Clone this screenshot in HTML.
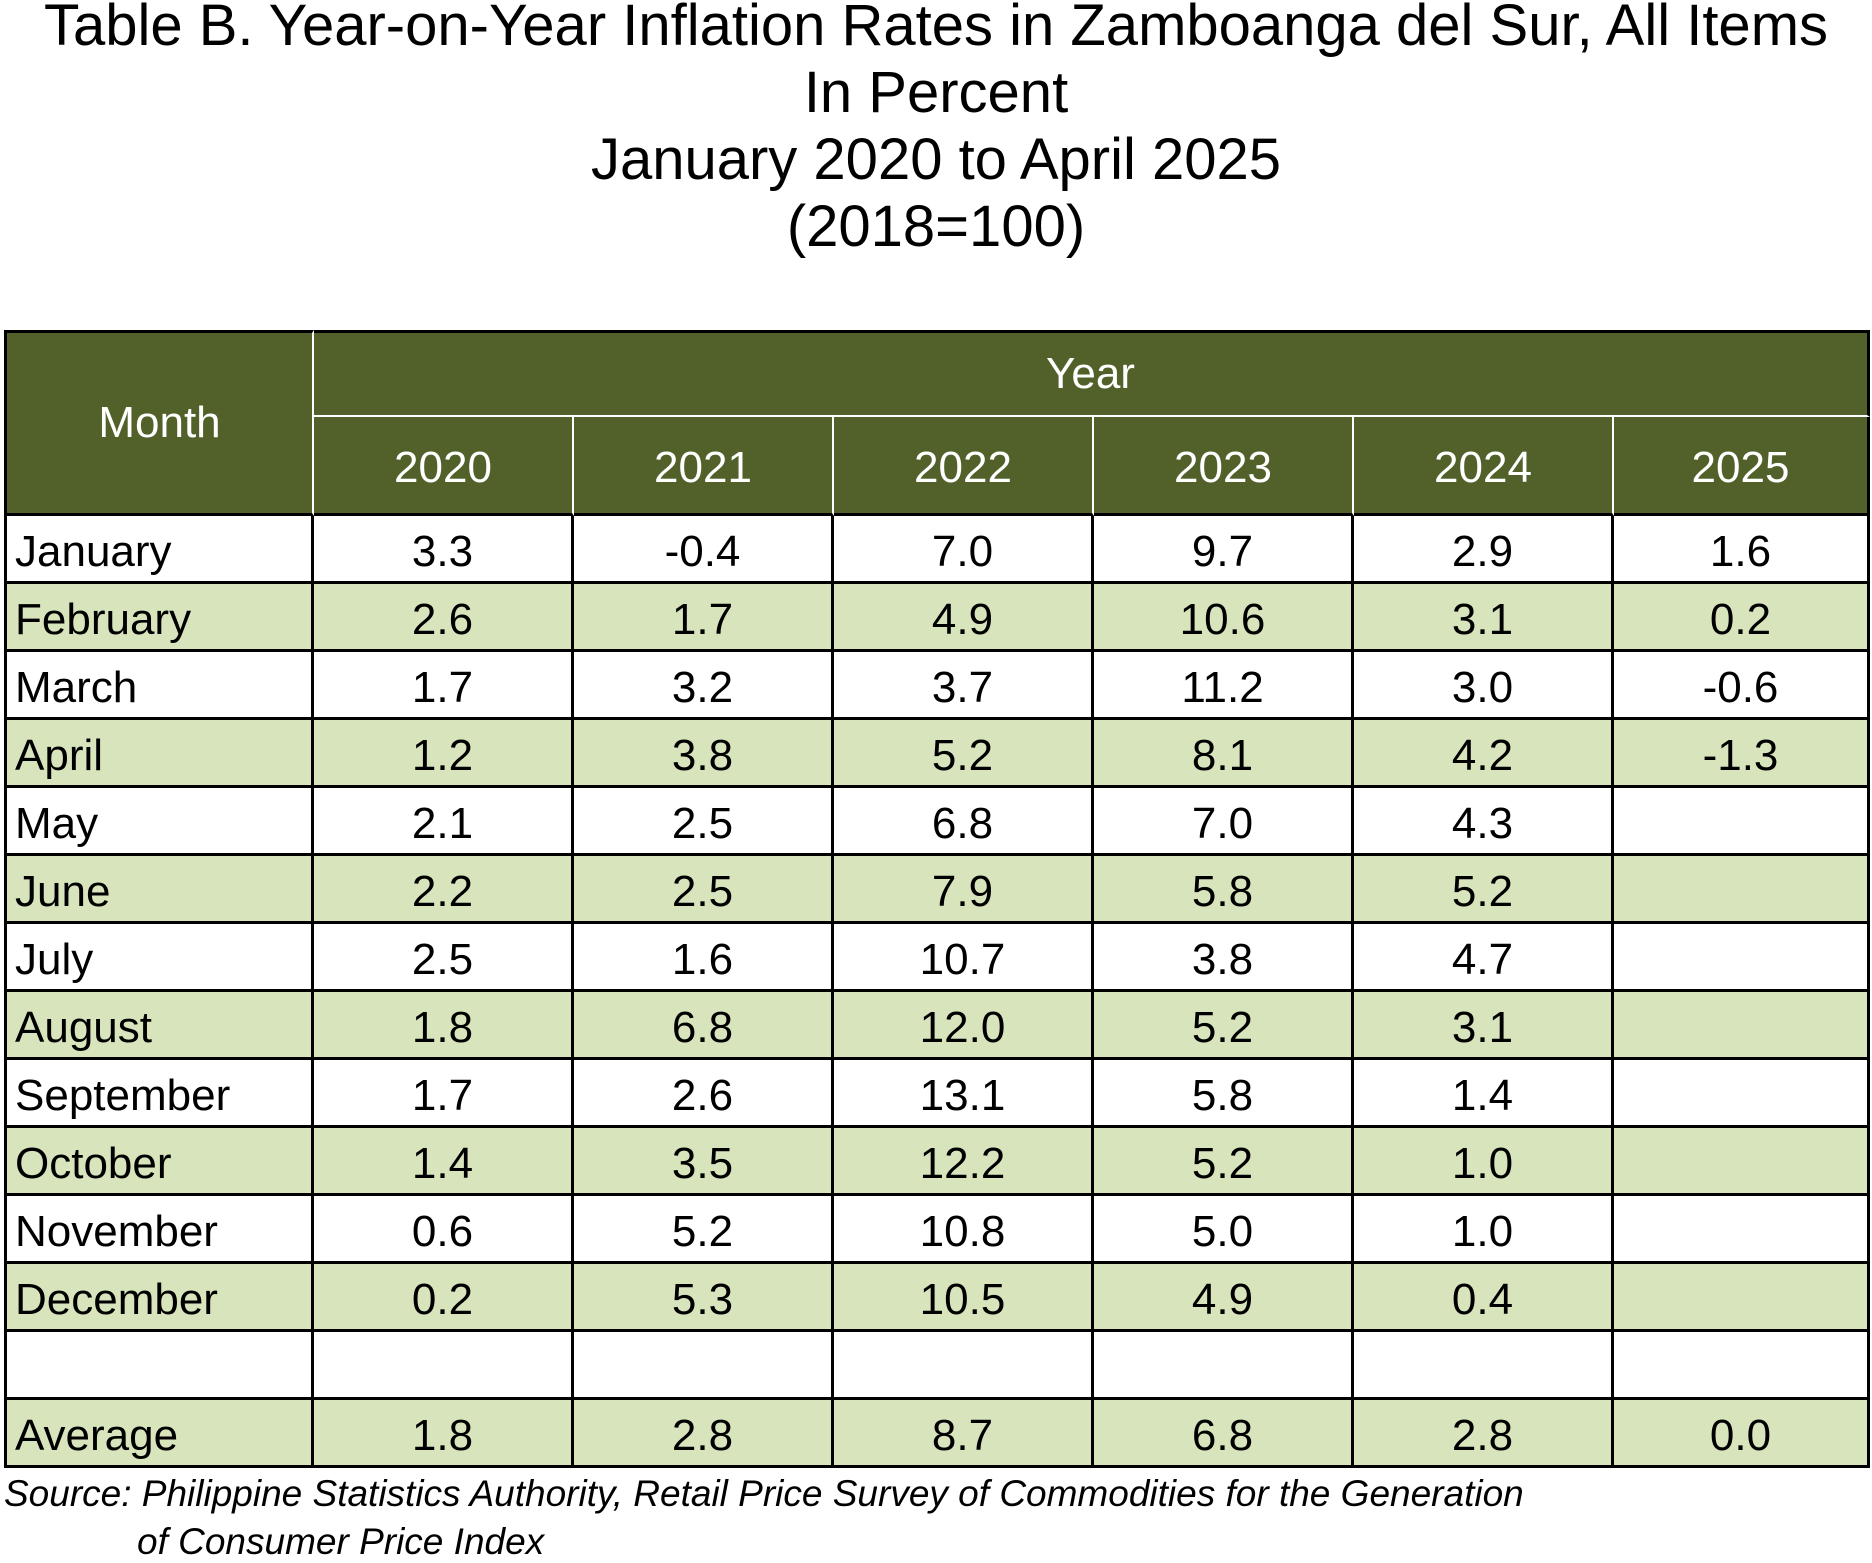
<!DOCTYPE html>
<html><head><meta charset="utf-8"><style>
body{margin:0;width:1872px;height:1559px;background:#fff;font-family:"Liberation Sans",Arial,sans-serif;position:relative;overflow:hidden}
.t{position:absolute;left:0;width:1872px;text-align:center;font-size:58px;line-height:60px;color:#000;white-space:nowrap}
.c{position:absolute;box-sizing:border-box;display:flex;align-items:center;justify-content:center;font-size:44px}
.src{position:absolute;font-style:italic;font-size:37px;color:#000;white-space:nowrap}
</style></head><body>
<div class="t" style="top:-4px">Table B. Year-on-Year Inflation Rates in Zamboanga del Sur, All Items</div>
<div class="t" style="top:63px">In Percent</div>
<div class="t" style="top:130px">January 2020 to April 2025</div>
<div class="t" style="top:197px">(2018=100)</div>
<div id="tbl"></div>
<div class="src" style="left:4px;top:1473px">Source: Philippine Statistics Authority, Retail Price Survey of Commodities for the Generation</div>
<div class="src" style="left:137px;top:1521px">of Consumer Price Index</div>
<script>
const years=["2020","2021","2022","2023","2024","2025"];
const months=["January","February","March","April","May","June","July","August","September","October","November","December","","Average"];
const v2020=["3.3","2.6","1.7","1.2","2.1","2.2","2.5","1.8","1.7","1.4","0.6","0.2","","1.8"];
const v2021=["-0.4","1.7","3.2","3.8","2.5","2.5","1.6","6.8","2.6","3.5","5.2","5.3","","2.8"];
const v2022=["7.0","4.9","3.7","5.2","6.8","7.9","10.7","12.0","13.1","12.2","10.8","10.5","","8.7"];
const v2023=["9.7","10.6","11.2","8.1","7.0","5.8","3.8","5.2","5.8","5.2","5.0","4.9","","6.8"];
const v2024=["2.9","3.1","3.0","4.2","4.3","5.2","4.7","3.1","1.4","1.0","1.0","0.4","","2.8"];
const v2025=["1.6","0.2","-0.6","-1.3","","","","","","","","","","0.0"];
const series=[v2020,v2021,v2022,v2023,v2024,v2025];
const colX=[4,314,574,834,1094,1354,1614,1870];
const top0=330,hSplit=417,bodyTop=516,rowH=68;
const T=document.getElementById('tbl');
function cell(x,y,w,h,txt,st){const d=document.createElement('div');d.className='c';
d.style.cssText+=`left:${x}px;top:${y}px;width:${w}px;height:${h}px;`+st;d.textContent=txt;T.appendChild(d);return d;}
const G='#526129';
let e=cell(colX[0],top0,colX[1]-colX[0],bodyTop-top0,"Month",`background:${G};color:#fff;border:3px solid #000;border-right:2px solid #fff;border-bottom:3px solid #000;padding-bottom:0px`);


e=cell(colX[1],top0,colX[7]-colX[1],hSplit-top0,"Year",`background:${G};color:#fff;border-top:3px solid #000;border-right:3px solid #000;border-bottom:2px solid #fff`);


years.forEach((y,i)=>{
 const d=cell(colX[i+1],hSplit,colX[i+2]-colX[i+1],bodyTop-hSplit,y,`background:${G};color:#fff;border-bottom:3px solid #000;border-right:${i==5?'3px solid #000':'2px solid #fff'};padding-top:6px`);
 
 
});
months.forEach((m,r)=>{
 const y=bodyTop+r*rowH;const bg=r%2?'#d8e4bc':'#fff';
 const d=cell(colX[0],y,colX[1]-colX[0],rowH,m,`background:${bg};justify-content:flex-start;padding-left:8px;padding-top:6px;border-left:3px solid #000;border-right:3px solid #000;border-bottom:3px solid #000`);
 
 
 series.forEach((s,i)=>{
  const c=cell(colX[i+1],y,colX[i+2]-colX[i+1],rowH,s[r],`background:${bg};padding-top:6px;border-right:3px solid #000;border-bottom:3px solid #000`);
  
  
 });
});
</script>
</body></html>
